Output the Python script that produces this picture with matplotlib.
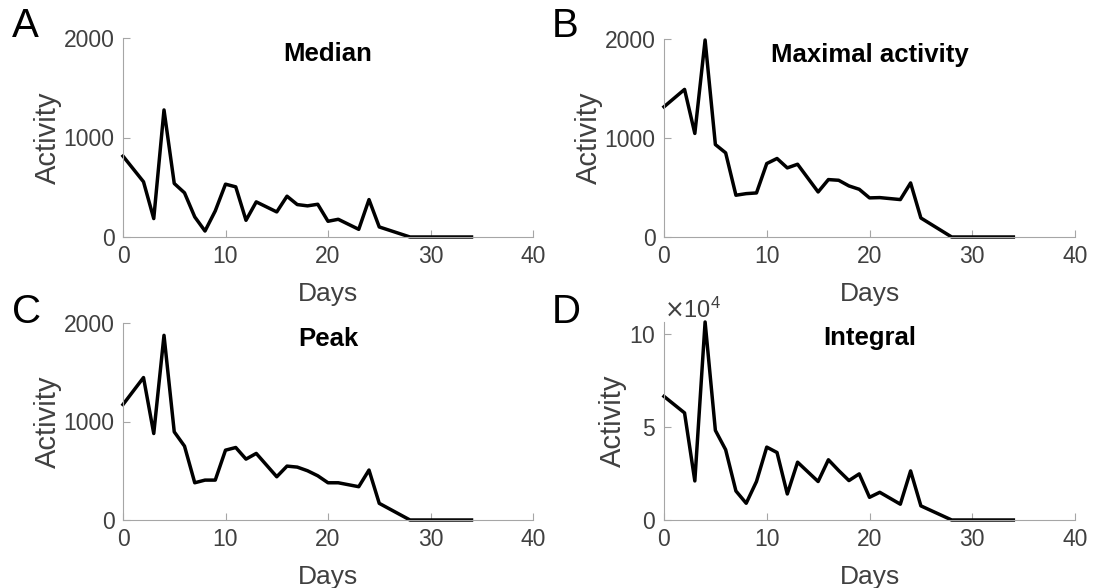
import numpy as np
import matplotlib
matplotlib.use("Agg")
import matplotlib.pyplot as plt

plt.rcParams['font.family'] = ['Liberation Sans', 'DejaVu Sans']

# 采样天数（折线的拐点）
days = [0, 2, 3, 4, 5, 6, 7, 8, 9, 10, 11, 12, 13, 15, 16, 17, 18, 19,
        20, 21, 23, 24, 25, 28, 34]

median = [813, 555, 185, 1277, 538, 444, 202, 60, 262, 531, 504, 168, 353,
          252, 410, 326, 313, 329, 158, 178, 77, 376, 101, 0, 0]
maximal = [1315, 1491, 1046, 1990, 934, 850, 422, 438, 445, 742, 793, 698,
           735, 455, 580, 573, 516, 482, 395, 398, 378, 546, 192, 0, 0]
peak = [1172, 1446, 878, 1875, 895, 750, 378, 405, 405, 709, 736, 618, 676,
        439, 547, 537, 500, 449, 378, 378, 338, 507, 169, 0, 0]
integral = [6.65e4, 5.76e4, 2.10e4, 10.65e4, 4.82e4, 3.78e4, 1.56e4, 0.90e4,
            2.07e4, 3.92e4, 3.63e4, 1.40e4, 3.11e4, 2.07e4, 3.24e4, 2.66e4,
            2.12e4, 2.48e4, 1.22e4, 1.49e4, 0.85e4, 2.64e4, 0.76e4, 0, 0]

titles = ["Median", "Maximal activity", "Peak", "Integral"]
letters = ["A", "B", "C", "D"]
series = [median, maximal, peak, integral]

axis_grey = "#a6a6a6"
text_grey = "#404040"

W, H = 1106, 588
fig = plt.figure(figsize=(W / 100, H / 100), dpi=100)

# 像素框: (left, right, top, bottom)
boxes = [(123, 533, 38, 237), (664, 1075, 39, 237),
         (123, 533, 323, 520), (664, 1075, 322, 520)]
letter_pos = [(12, 7), (552, 7), (12, 293), (552, 293)]

for i, (l, r, t, b) in enumerate(boxes):
    ax = fig.add_axes([l / W, 1 - b / H, (r - l) / W, (b - t) / H])
    ax.plot(days, series[i], color="k", linewidth=2.5, clip_on=False)
    ax.set_xlim(0, 40)
    ax.set_xticks([0, 10, 20, 30, 40])
    if i == 3:
        ax.set_ylim(0, 10.65e4)
        ax.set_yticks([0, 5e4, 10e4])
        ax.ticklabel_format(axis='y', style='sci', scilimits=(4, 4), useMathText=True)
        ax.yaxis.get_offset_text().set_fontsize(17)
        ax.yaxis.get_offset_text().set_color(text_grey)
    else:
        ax.set_ylim(0, 2000)
        ax.set_yticks([0, 1000, 2000])
    for s in ["top", "right"]:
        ax.spines[s].set_visible(False)
    for s in ["left", "bottom"]:
        ax.spines[s].set_color(axis_grey)
        ax.spines[s].set_linewidth(0.8)
    ax.tick_params(direction="in", length=5, width=0.8, color=axis_grey,
                   labelcolor=text_grey, labelsize=16.5, pad=6)
    ax.set_xlabel("Days", fontsize=19, color=text_grey, labelpad=10)
    ax.set_ylabel("Activity", fontsize=21, color=text_grey, labelpad=1.5)
    ax.set_title(titles[i], fontsize=18.5, fontweight="bold", y=0.885, pad=0)
    fig.text(letter_pos[i][0] / W, 1 - letter_pos[i][1] / H, letters[i],
             fontsize=29, va="top", ha="left")

fig.savefig("out.png", dpi=100)
